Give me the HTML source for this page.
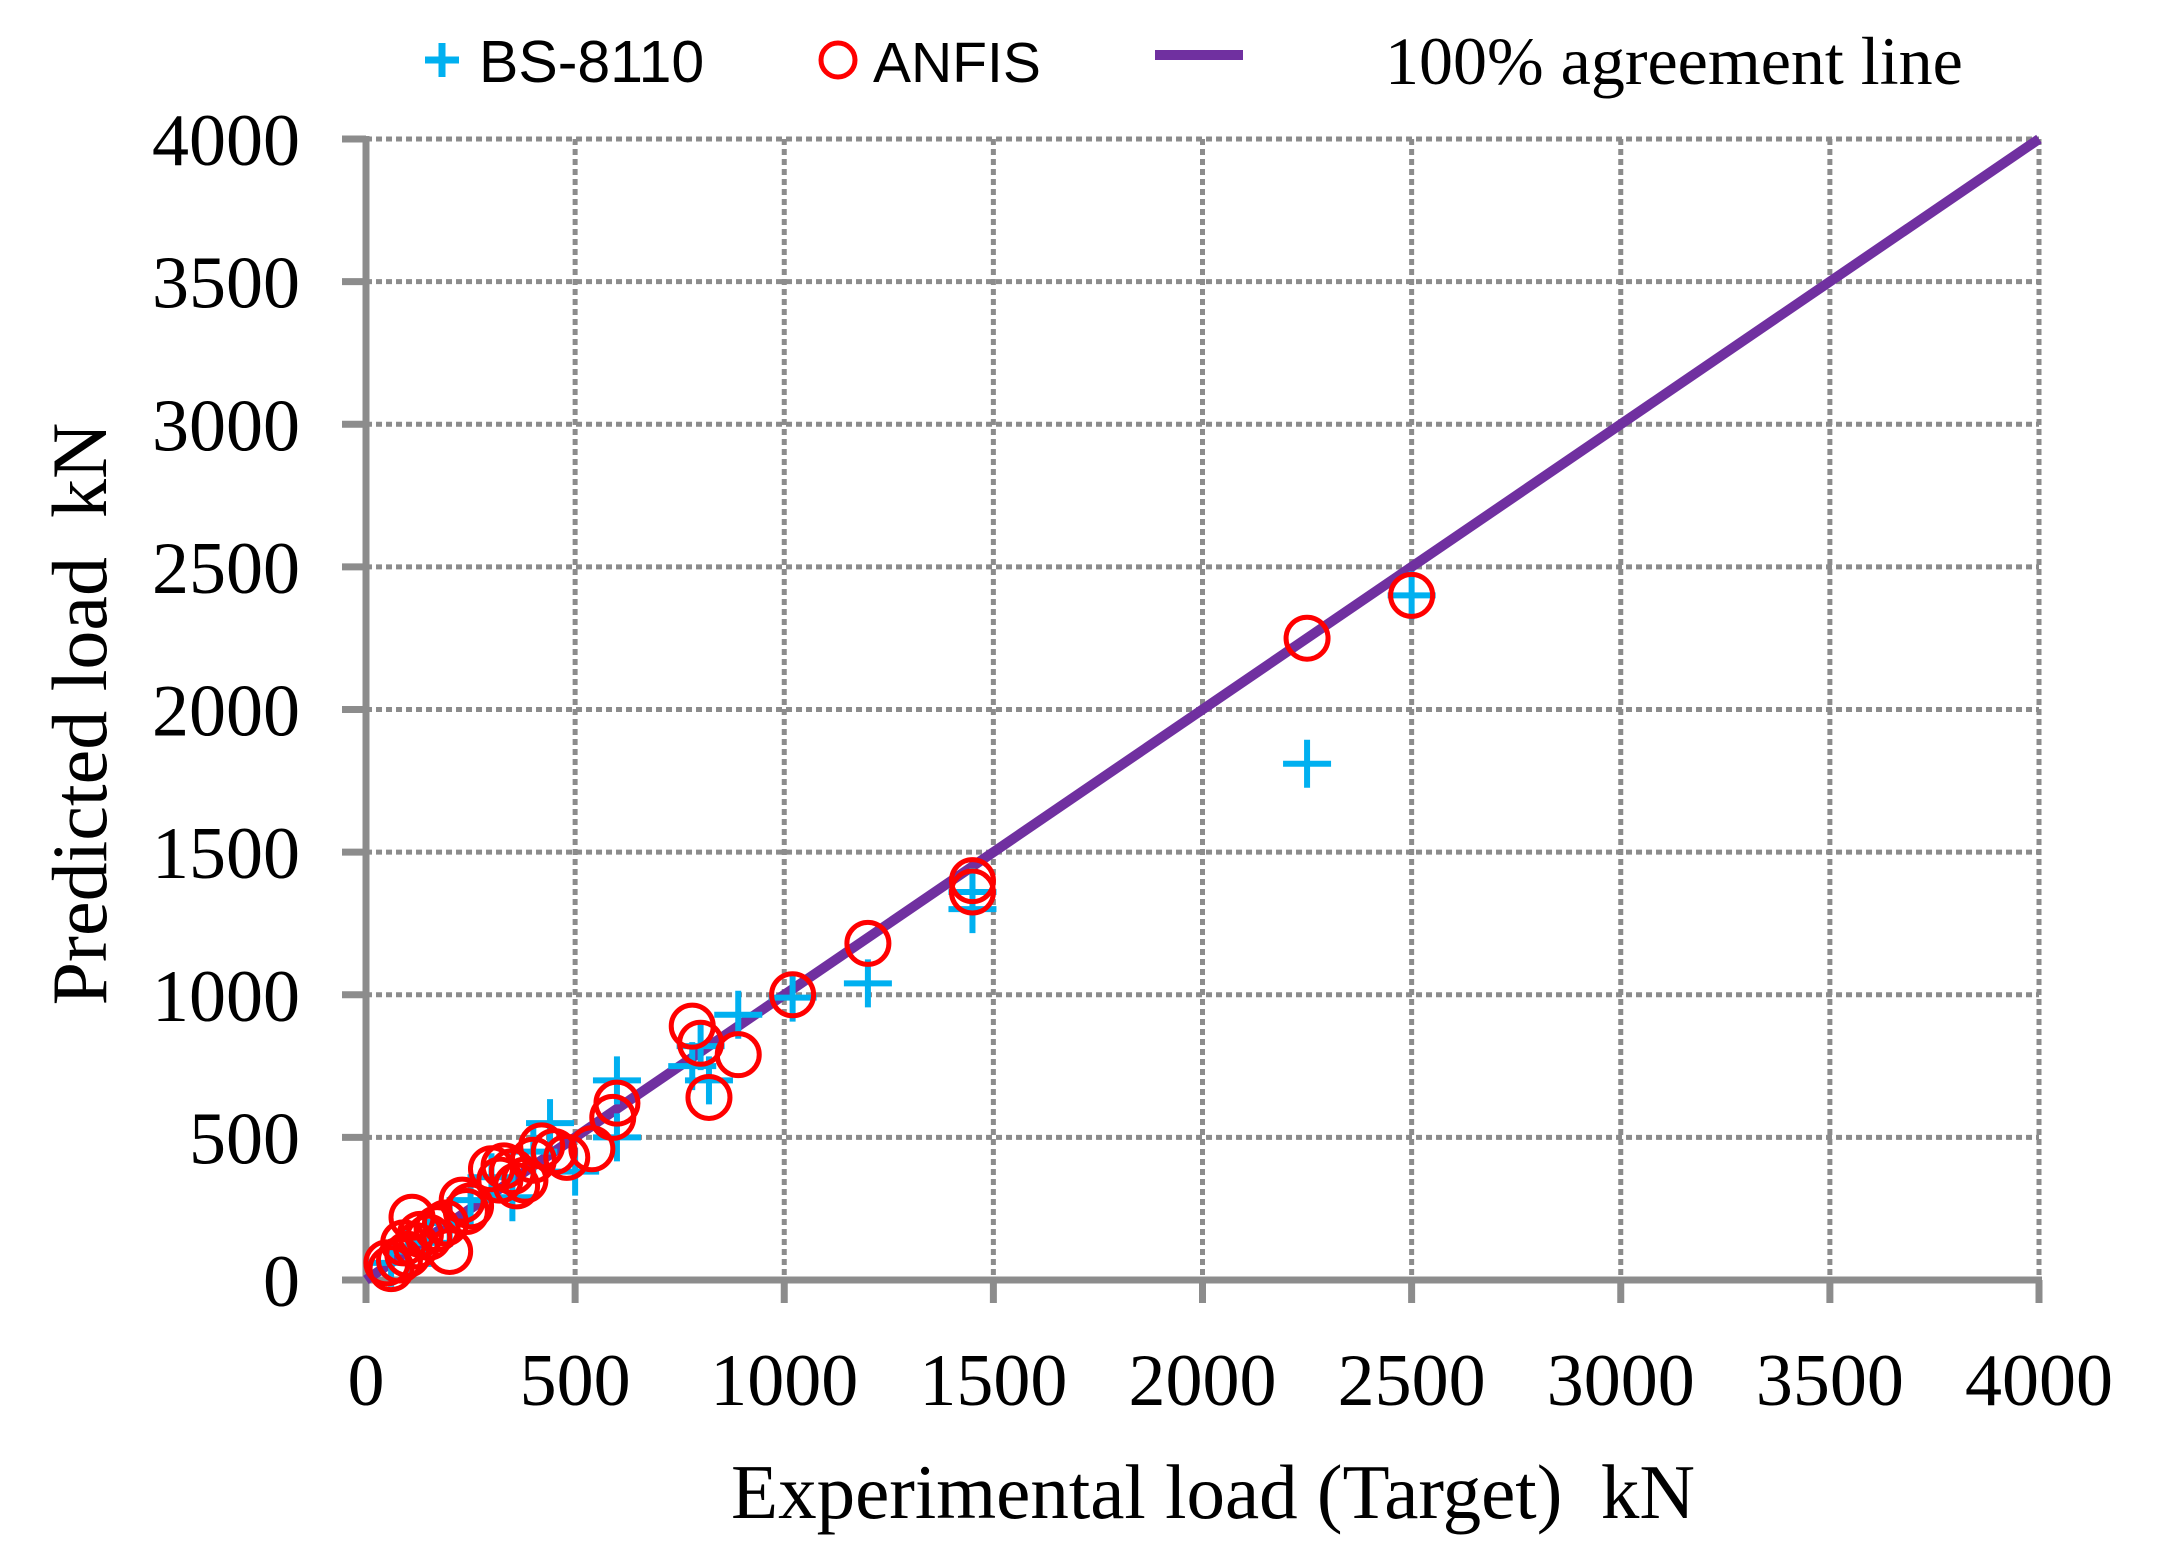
<!DOCTYPE html>
<html><head><meta charset="utf-8"><style>
html,body{margin:0;padding:0;background:#fff;width:2168px;height:1557px;overflow:hidden}
svg{display:block}
.t{font-family:"Liberation Serif",serif;fill:#000}
.s{font-family:"Liberation Sans",sans-serif;fill:#000}
</style></head><body>
<svg id="c" width="2168" height="1557" viewBox="0 0 2168 1557" xmlns="http://www.w3.org/2000/svg">
<g id="grid" stroke="#8c8c8c" stroke-width="5" stroke-dasharray="6,4"></g>
<g id="axes" stroke="#8c8c8c" stroke-width="7"></g>
<g id="ylab" class="t" font-size="74" text-anchor="end"></g>
<g id="xlab" class="t" font-size="74" text-anchor="middle"></g>
<line x1="366" y1="1280" x2="2039" y2="139" stroke="#7030A0" stroke-width="10"/>
<g id="plus" stroke="#00B0F0" stroke-width="6"></g>
<g id="circ" stroke="#FF0000" stroke-width="5" fill="none"></g>
<text class="t" font-size="78" transform="translate(106,714) rotate(-90)" text-anchor="middle" xml:space="preserve">Predicted load  kN</text>
<text class="t" font-size="77" x="1213" y="1518" text-anchor="middle" xml:space="preserve">Experimental load (Target)  kN</text>
<g stroke="#00B0F0" stroke-width="7"><line x1="425" y1="60" x2="459" y2="60"/><line x1="442" y1="43" x2="442" y2="77"/></g>
<text class="s" font-size="59" x="479" y="82">BS-8110</text>
<circle cx="838" cy="60" r="17" stroke="#FF0000" stroke-width="5" fill="none"/>
<text class="s" font-size="57" x="873" y="82">ANFIS</text>
<line x1="1155" y1="55" x2="1243" y2="55" stroke="#7030A0" stroke-width="10"/>
<text class="t" font-size="68" x="1385" y="84">100% agreement line</text>
</svg>
<script>
var NS="http://www.w3.org/2000/svg";
function el(p,n,a,t){var e=document.createElementNS(NS,n);for(var k in a)e.setAttribute(k,a[k]);if(t!=null)e.textContent=t;document.getElementById(p).appendChild(e);}
function X(v){return 366+v*(2039-366)/4000}function Y(v){return 1280-v*(1280-139)/4000}
for(var i=1;i<=8;i++){var v=i*500;
el("grid","line",{x1:366,y1:Y(v),x2:2039,y2:Y(v)});
el("grid","line",{x1:X(v),y1:139,x2:X(v),y2:1280});}
el("axes","line",{x1:366,y1:136,x2:366,y2:1303});
el("axes","line",{x1:342,y1:1280,x2:2042,y2:1280});
for(var i=0;i<=8;i++){var v=i*500;
el("axes","line",{x1:342,y1:Y(v),x2:366,y2:Y(v)});
el("axes","line",{x1:X(v),y1:1280,x2:X(v),y2:1303});
el("ylab","text",{x:300,y:Y(v)+26},String(v));
el("xlab","text",{x:X(v),y:1405},String(v));}
var P=[[2250,1810],[2500,2400],[1450,1300],[1200,1040],[1020,990],[890,930],[820,700],[780,750],[600,700],[600,500],[440,550],[500,380],[350,290],[300,360],[250,280],[200,200],[100,100],[60,60],[150,130],[400,450],[800,820],[1450,1360]];
P.forEach(function(p){var x=X(p[0]),y=Y(p[1]);
el("plus","line",{x1:x-24,y1:y,x2:x+24,y2:y});el("plus","line",{x1:x,y1:y-24,x2:x,y2:y+24});});
var C=[[2250,2250],[2500,2400],[1450,1400],[1450,1360],[1200,1180],[1020,1000],[780,890],[800,830],[890,790],[820,640],[600,620],[590,570],[540,460],[480,430],[450,450],[420,470],[380,350],[350,380],[330,400],[300,390],[320,350],[360,330],[230,280],[240,240],[200,100],[110,220],[150,150],[120,120],[100,90],[80,70],[60,40],[50,60],[170,180],[130,160],[90,130],[190,200],[250,260],[400,420]];
C.forEach(function(p){el("circ","circle",{cx:X(p[0]),cy:Y(p[1]),r:21});});
</script>
</body></html>
